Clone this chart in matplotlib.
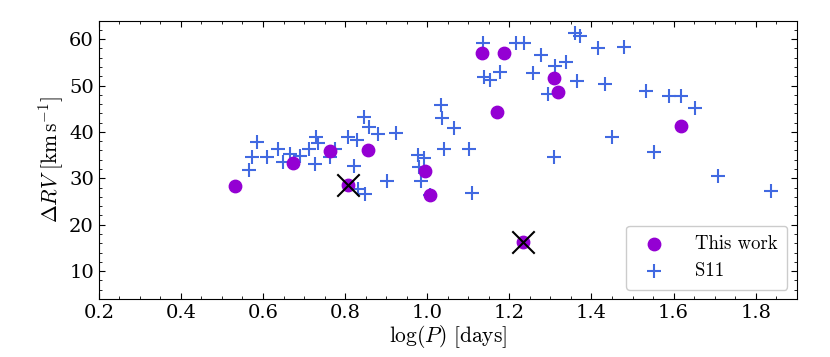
import matplotlib
matplotlib.use("Agg")
import matplotlib.pyplot as plt

# --- Data: this work ---
this_logp = [0.531, 0.672, 0.763, 0.856, 0.808, 0.994, 1.007, 1.133, 1.188,
             1.169, 1.309, 1.318, 1.617, 1.234]
this_drv = [28.4, 33.3, 35.8, 36.2, 28.6, 31.6, 26.5, 57.0, 57.0,
            44.2, 51.7, 48.6, 41.3, 16.3]

# flagged systems (crossed out)
flag_logp = [0.808, 1.234]
flag_drv = [28.6, 16.3]

# --- Data: S11 ---
s11_logp = [1.136, 1.178, 1.138, 1.153, 1.033, 1.037, 1.066, 1.041, 1.102, 1.109,
            0.978, 0.993, 0.980, 0.985, 1.006, 0.903, 0.924, 0.881, 0.857, 0.847,
            0.808, 0.830, 0.822, 0.848, 0.832, 0.763, 0.775, 0.730, 0.734, 0.712,
            0.727, 0.690, 0.665, 0.648, 0.636, 0.609, 0.586, 0.572, 0.565,
            1.215, 1.236, 1.277, 1.257, 1.310, 1.339, 1.293, 1.361, 1.371, 1.365,
            1.415, 1.479, 1.432, 1.532, 1.589, 1.617, 1.653, 1.450, 1.552, 1.309,
            1.709, 1.838]
s11_drv = [59.1, 52.9, 51.8, 51.1, 45.7, 43.1, 40.9, 36.4, 36.3, 26.9,
           35.0, 34.4, 32.4, 29.5, 26.3, 29.5, 39.8, 39.6, 41.0, 43.2,
           39.0, 38.2, 32.6, 26.7, 27.6, 34.6, 36.4, 38.9, 37.6, 36.4,
           33.1, 34.9, 35.3, 33.5, 36.4, 34.6, 37.8, 34.7, 31.7,
           59.1, 59.1, 56.5, 52.7, 54.3, 55.1, 48.2, 61.4, 60.6, 50.9,
           58.0, 58.4, 50.4, 48.9, 47.7, 47.8, 45.1, 38.8, 35.6, 34.7,
           30.4, 27.2]

plt.rcParams['font.family'] = 'DejaVu Serif'
plt.rcParams['mathtext.fontset'] = 'cm'

fig = plt.figure(figsize=(8.3, 3.57), dpi=100)
ax = fig.add_axes([0.119, 0.1625, 0.841, 0.78])

ax.scatter(this_logp, this_drv, s=80, color='darkviolet', label='This work', zorder=3)
ax.scatter(s11_logp, s11_drv, s=110, marker='+', color='royalblue',
           linewidths=1.5, label='S11', zorder=2)
ax.scatter(flag_logp, flag_drv, s=260, marker='x', color='black',
           linewidths=1.5, zorder=4)

ax.set_xlim(0.2, 1.9)
ax.set_ylim(4, 64)
ax.set_xlabel(r'$\log(P)\ [\mathrm{days}]$', fontsize=15.5, labelpad=1)
ax.set_ylabel(r'$\Delta RV\ [\mathrm{km\,s^{-1}}]$', fontsize=15.5, labelpad=2)

ax.minorticks_on()
ax.tick_params(which='both', direction='in', top=True, right=True, labelsize=14)
ax.tick_params(which='major', length=4)
ax.tick_params(which='minor', length=2)

ax.legend(loc='lower right', prop={'family': 'cmr10', 'size': 13.5},
          handletextpad=1.2, borderpad=0.5, framealpha=1)

fig.savefig('out.png', dpi=100)
